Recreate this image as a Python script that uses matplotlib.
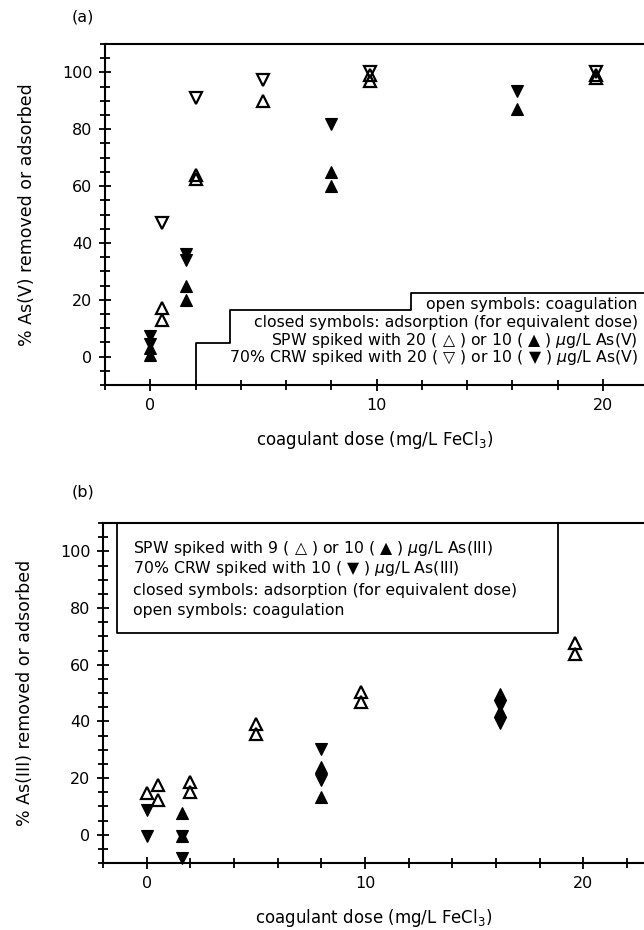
import matplotlib
matplotlib.use("Agg")
import matplotlib.pyplot as plt
from matplotlib.ticker import MultipleLocator

plt.rcParams['font.family'] = ['DejaVu Sans']

# ---------------- Panel (a): As(V) ----------------
a_coag_spw_x = [0.5, 0.5, 2.0, 2.0, 5.0, 9.7, 9.7, 19.7, 19.7]
a_coag_spw_y = [17, 13, 64, 62.5, 90, 97, 99, 98, 99]
a_coag_crw_x = [0.5, 2.0, 5.0, 9.7, 19.7]
a_coag_crw_y = [47, 91, 97.5, 100, 100]
a_ads_spw_x = [0, 0, 1.6, 1.6, 8.0, 8.0, 16.2]
a_ads_spw_y = [3, 0.4, 25, 20, 65, 60, 87]
a_ads_crw_x = [0, 0, 1.6, 1.6, 8.0, 16.2]
a_ads_crw_y = [7.1, 4.5, 36, 34, 82, 93.5]

# ---------------- Panel (b): As(III) ----------------
b_coag_spw_x = [0, 0.5, 0.5, 2.0, 2.0, 5.0, 5.0, 9.8, 9.8, 19.6, 19.6]
b_coag_spw_y = [14.6, 17.5, 12.3, 18.7, 15.2, 39.2, 35.7, 50.3, 46.8, 67.8, 63.8]
b_ads_spw_x = [1.6, 1.6, 8.0, 8.0, 16.2, 16.2]
b_ads_spw_y = [7.6, -0.6, 23.8, 13.4, 49.5, 43.5]
b_ads_crw_x = [0, 0, 1.6, 1.6, 8.0, 8.0, 16.2, 16.2]
b_ads_crw_y = [8.8, -0.6, -0.6, -8.2, 30.4, 19.4, 45.5, 39.5]

x_major = 10
x_minor = 2
y_major = 20
y_minor = 5

legend_a = ["open symbols: coagulation",
            "closed symbols: adsorption (for equivalent dose)",
            "SPW spiked with 20 ( \u25B3 ) or 10 ( \u25B2 ) $\\mu$g/L As(V)",
            "70% CRW spiked with 20 ( \u25BD ) or 10 ( \u25BC ) $\\mu$g/L As(V)"]
legend_b = ["SPW spiked with 9 ( \u25B3 ) or 10 ( \u25B2 ) $\\mu$g/L As(III)",
            "70% CRW spiked with 10 ( \u25BC ) $\\mu$g/L As(III)",
            "closed symbols: adsorption (for equivalent dose)",
            "open symbols: coagulation"]

W, H = 644, 930
fig = plt.figure(figsize=(W / 100, H / 100), dpi=100)


def px_axes(l, t, r, b):
    return fig.add_axes([l / W, 1 - b / H, (r - l) / W, (b - t) / H])


ax_a = px_axes(105, 44, 644, 385)
ax_b = px_axes(103, 523, 644, 863)

MS = 9.0
MEW = 1.6
LEG_FS = 11.3


def style(ax, xmax, ylab):
    ax.set_xlim(-2, xmax)
    ax.set_ylim(-10, 110)
    ax.spines['right'].set_visible(False)
    for s in ['left', 'bottom', 'top']:
        ax.spines[s].set_linewidth(1.5)
    ax.xaxis.set_major_locator(MultipleLocator(x_major))
    ax.xaxis.set_minor_locator(MultipleLocator(x_minor))
    ax.yaxis.set_major_locator(MultipleLocator(y_major))
    ax.yaxis.set_minor_locator(MultipleLocator(y_minor))
    ax.tick_params(which='both', direction='inout', top=False, right=False,
                   width=1.3, labelsize=11.5)
    ax.tick_params(which='major', length=8, pad=5)
    ax.tick_params(which='minor', length=7)
    ax.set_xlabel("coagulant dose (mg/L FeCl$_3$)", fontsize=12, labelpad=12)
    ax.set_ylabel(ylab, fontsize=12.5, labelpad=19)


def pts(ax, x, y, marker, filled):
    if filled:
        ax.plot(x, y, linestyle='none', marker=marker, ms=MS, mfc='black',
                mec='black', mew=0.8, clip_on=False, zorder=3)
    else:
        ax.plot(x, y, linestyle='none', marker=marker, ms=MS, mfc='none',
                mec='black', mew=MEW, clip_on=False, zorder=3)


# Panel (a)
style(ax_a, (644 - 150) / 22.65, "% As(V) removed or adsorbed")
pts(ax_a, a_coag_spw_x, a_coag_spw_y, '^', False)
pts(ax_a, a_coag_crw_x, a_coag_crw_y, 'v', False)
pts(ax_a, a_ads_spw_x, a_ads_spw_y, '^', True)
pts(ax_a, a_ads_crw_x, a_ads_crw_y, 'v', True)

# stepped legend outline for (a)
xmax_a = ax_a.get_xlim()[1]
step_x = [2.0, 2.0, 3.5, 3.5, 11.5, 11.5, xmax_a]
step_y = [-10, 4.8, 4.8, 16.5, 16.5, 22.5, 22.5]
ax_a.plot(step_x, step_y, color='black', lw=1.3, clip_on=False, zorder=2)
for i, line in enumerate(legend_a):
    fig.text(638 / W, 1 - (305 + 17.5 * i) / H, line, ha='right', va='center',
             fontsize=LEG_FS)

# Panel (b)
style(ax_b, (644 - 146.7) / 21.83, "% As(III) removed or adsorbed")
pts(ax_b, b_coag_spw_x, b_coag_spw_y, '^', False)
pts(ax_b, b_ads_spw_x, b_ads_spw_y, '^', True)
pts(ax_b, b_ads_crw_x, b_ads_crw_y, 'v', True)

box_x = [-1.37, -1.37, 18.85, 18.85]
box_y = [110, 71.3, 71.3, 110]
ax_b.plot(box_x, box_y, color='black', lw=1.3, clip_on=False, zorder=2)
for i, line in enumerate(legend_b):
    fig.text(133 / W, 1 - (548 + 21 * i) / H, line, ha='left', va='center',
             fontsize=LEG_FS)

fig.text(72 / W, 1 - 17 / H, "(a)", ha='left', va='center', fontsize=11.5)
fig.text(72 / W, 1 - 492 / H, "(b)", ha='left', va='center', fontsize=11.5)

fig.savefig("out.png", dpi=100)
